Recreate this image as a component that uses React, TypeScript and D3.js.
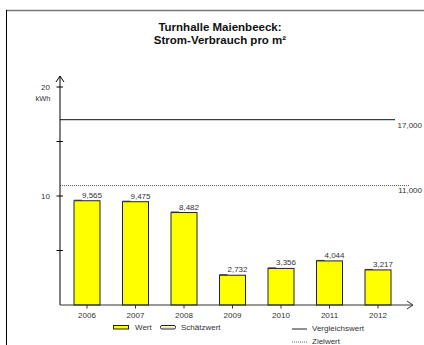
import * as d3 from "d3";

const years = ["2006", "2007", "2008", "2009", "2010", "2011", "2012"];
const values = [9.565, 9.475, 8.482, 2.732, 3.356, 4.044, 3.217];
const valueLabels = ["9,565", "9,475", "8,482", "2,732", "3,356", "4,044", "3,217"];
const yTicks = [5, 10, 15, 20];
const yTickLabels = ["", "10", "", "20"];
const compareValue = 17;
const compareLabel = "17,000";
const targetValue = 11;
const targetLabel = "11,000";

const W = 424;
const H = 345;
const font = "'Liberation Sans', Arial, sans-serif";
const gray = "#333";

export default function App() {
  const x = d3.scalePoint<string>().domain(years).range([87, 378]);
  const y = d3.scaleLinear().domain([0, 20]).range([305, 87]);
  const barW = 26;
  const axisX = 60;
  const base = y(0);

  return (
    <svg
      width={W}
      height={H}
      style={{ position: "absolute", left: 0, top: 0, background: "#fff" }}
      fontFamily={font}
    >
      {/* frame */}
      <line x1={6} x2={W} y1={10.5} y2={10.5} stroke="#777" strokeWidth={1.5} />
      <line x1={6.5} x2={6.5} y1={10} y2={H} stroke="#000" strokeWidth={1} />

      {/* title */}
      <text x={220} y={31} textAnchor="middle" fontSize={11.5} fontWeight="bold" fill="#111">
        Turnhalle Maienbeeck:
      </text>
      <text x={220} y={44} textAnchor="middle" fontSize={11.5} fontWeight="bold" fill="#111">
        Strom-Verbrauch pro m²
      </text>

      {/* reference lines */}
      <line x1={axisX} x2={395} y1={y(compareValue)} y2={y(compareValue)} stroke="#111" strokeWidth={1} />
      <text x={422} y={y(compareValue) + 8} textAnchor="end" fontSize={8} fill={gray}>
        {compareLabel}
      </text>
      <line
        x1={axisX}
        x2={410}
        y1={y(targetValue) + 0.5}
        y2={y(targetValue) + 0.5}
        stroke="#555"
        strokeWidth={1}
        strokeDasharray="1,1"
      />
      <text x={422} y={y(targetValue) + 8} textAnchor="end" fontSize={8} fill={gray}>
        {targetLabel}
      </text>

      {/* bars */}
      {years.map((yr, i) => {
        const cx = x(yr) as number;
        const left = cx - barW / 2;
        const top = y(values[i]);
        return (
          <g key={yr}>
            <rect
              x={left}
              y={top}
              width={barW}
              height={base - top}
              fill="#ffff00"
              stroke="#222"
              strokeWidth={1}
            />
            <line x1={left} x2={left + 8} y1={top - 0.5} y2={top - 0.5} stroke={gray} strokeWidth={1} />
            <text x={left + 8} y={top - 3} fontSize={8} fill={gray}>
              {valueLabels[i]}
            </text>
            <line x1={cx} x2={cx} y1={base} y2={base + 3.5} stroke={gray} />
            <text x={cx} y={base + 13} textAnchor="middle" fontSize={8} fill={gray}>
              {yr}
            </text>
          </g>
        );
      })}

      {/* y axis */}
      <line x1={axisX} x2={axisX} y1={base} y2={76} stroke="#000" strokeWidth={1} />
      <path d={`M${axisX - 4},${82} L${axisX},${76} L${axisX + 4},${82}`} fill="none" stroke="#000" />
      {yTicks.map((t, i) => (
        <g key={t}>
          <line x1={axisX - 3.5} x2={axisX + 3} y1={y(t)} y2={y(t)} stroke="#000" />
          {yTickLabels[i] && (
            <text x={axisX - 10} y={y(t) + 3} textAnchor="end" fontSize={8} fill={gray}>
              {yTickLabels[i]}
            </text>
          )}
        </g>
      ))}
      <text x={43} y={101} textAnchor="middle" fontSize={7.5} fill={gray}>
        kWh
      </text>

      {/* x axis */}
      <line x1={axisX} x2={412} y1={base} y2={base} stroke="#333" strokeWidth={1} />
      <path d={`M${407},${base - 4} L${413},${base} L${407},${base + 4}`} fill="none" stroke="#333" />

      {/* legend */}
      <rect x={113.5} y={325.5} width={15} height={3.5} fill="#ffff00" stroke="#222" />
      <text x={135} y={330} fontSize={8} fill={gray}>
        Wert
      </text>
      <rect x={160.5} y={325.5} width={15} height={3.5} rx={1.5} fill="#fff" stroke="#222" />
      <rect x={162} y={326.8} width={12} height={1} fill="#f5e94a" />
      <text x={181} y={330} fontSize={8} fill={gray}>
        Schätzwert
      </text>
      <line x1={292} x2={307} y1={329} y2={329} stroke="#222" />
      <text x={312} y={331} fontSize={8} fill={gray}>
        Vergleichswert
      </text>
      <line x1={292} x2={307} y1={342} y2={342} stroke="#666" strokeDasharray="1,1" />
      <text x={312} y={344} fontSize={8} fill={gray}>
        Zielwert
      </text>
    </svg>
  );
}
